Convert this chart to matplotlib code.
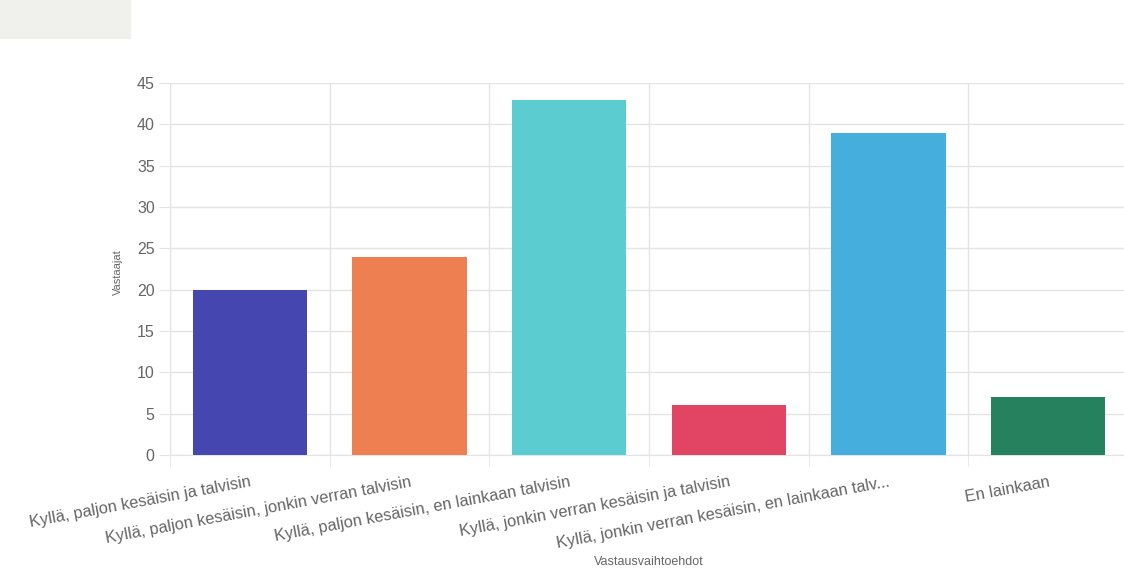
import numpy as np
import matplotlib.pyplot as plt
from matplotlib.patches import Rectangle

categories = [
    "Kyllä, paljon kesäisin ja talvisin",
    "Kyllä, paljon kesäisin, jonkin verran talvisin",
    "Kyllä, paljon kesäisin, en lainkaan talvisin",
    "Kyllä, jonkin verran kesäisin ja talvisin",
    "Kyllä, jonkin verran kesäisin, en lainkaan talv...",
    "En lainkaan",
]
values = [20, 24, 43, 6, 39, 7]
colors = ["#4546b0", "#ee7f50", "#5bcdd0", "#e14563", "#45aedd", "#25815e"]
yticks = [0, 5, 10, 15, 20, 25, 30, 35, 40, 45]

plt.rcParams['font.family'] = ['Liberation Sans', 'DejaVu Sans']
text_color = '#666666'
grid_color = '#e4e4e4'

fig = plt.figure(figsize=(11.24, 5.72), dpi=100)
fig.patches.append(Rectangle((0, 1 - 38 / 572), 130 / 1124, 38 / 572,
                             transform=fig.transFigure, color='#f0f0ed', zorder=0))

ax = fig.add_axes([170 / 1124, 117 / 572, 958 / 1124, 372 / 572])
x = np.arange(len(categories))
ax.bar(x, values, width=0.715, color=colors, zorder=3)

ax.set_xlim(-0.5, len(categories) - 0.5)
ax.set_ylim(0, 45)
ax.set_yticks(yticks)
ax.set_xticks(x)
ax.set_xticklabels(categories, rotation=10.5, ha='right', rotation_mode='anchor',
                   fontsize=11.8, color=text_color)
ax.set_xticks(np.arange(len(categories) + 1) - 0.5, minor=True)
ax.tick_params(axis='x', which='major', length=0, pad=14)
ax.tick_params(axis='x', which='minor', length=8, color=grid_color)
ax.tick_params(axis='y', length=8, color=grid_color, labelsize=11.5,
               labelcolor=text_color, pad=3)
ax.grid(True, axis='y', color=grid_color, linewidth=1, zorder=0)
ax.grid(True, axis='x', which='minor', color=grid_color, linewidth=1, zorder=0)
for s in ['top', 'right']:
    ax.spines[s].set_visible(False)
ax.spines['left'].set_color(grid_color)
ax.spines['bottom'].set_color(grid_color)

ax.set_ylabel('Vastaajat', fontsize=8, color=text_color)
ax.yaxis.set_label_coords((123 - 170) / 958, (455 - 272) / 372)
ax.set_xlabel('Vastausvaihtoehdot', fontsize=9, color=text_color)
ax.xaxis.set_label_coords((649 - 170) / 958, -(556 - 455) / 372)

fig.savefig('out.png', dpi=100)
